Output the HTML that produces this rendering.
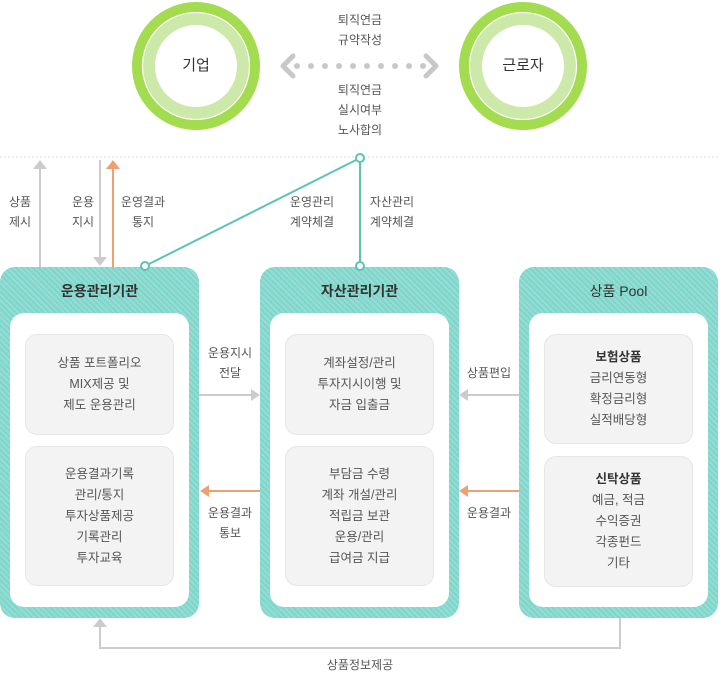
<!DOCTYPE html>
<html><head><meta charset="utf-8"><style>
body{margin:0;width:720px;height:673px;background:#fff;position:relative;overflow:hidden;font-family:"Liberation Sans","Noto Sans CJK KR",sans-serif;color:#555}
.t{position:absolute;font-size:12px;line-height:20px;text-align:center;color:#555;white-space:nowrap}
.box{position:absolute;top:267px;width:199px;height:351px;border-radius:15px;background:#7ed5ca;background-image:repeating-linear-gradient(45deg,rgba(255,255,255,.18) 0 2px,transparent 2px 4px)}
.box h3{margin:0;position:absolute;top:14px;left:0;right:0;text-align:center;font-size:14px;font-weight:bold;color:#333}
.inner{position:absolute;left:10px;top:46px;width:179px;height:294px;background:#fff;border-radius:14px}
.g{position:absolute;left:15px;width:147px;background:#f3f3f3;border:1px solid #e6e6e6;border-radius:12px;display:flex;flex-direction:column;justify-content:center;align-items:center;font-size:12.5px;line-height:21px;color:#555;text-align:center}
</style></head><body>
<svg width="720" height="673" style="position:absolute;left:0;top:0">
<line x1="0" y1="157" x2="720" y2="157" stroke="#ddd" stroke-dasharray="2,2"/>
<circle cx="196" cy="66" r="59" fill="none" stroke="#a3dc4e" stroke-width="10"/>
<circle cx="196" cy="66" r="47" fill="none" stroke="#cde9a9" stroke-width="12"/>
<circle cx="196" cy="66" r="53.5" fill="none" stroke="#fff" stroke-width="1"/>
<circle cx="523" cy="66" r="59" fill="none" stroke="#a3dc4e" stroke-width="10"/>
<circle cx="523" cy="66" r="47" fill="none" stroke="#cde9a9" stroke-width="12"/>
<circle cx="523" cy="66" r="53.5" fill="none" stroke="#fff" stroke-width="1"/>
<g fill="#c8c8c8"><circle cx="297" cy="66" r="3"/><circle cx="311" cy="66" r="3"/><circle cx="325" cy="66" r="3"/><circle cx="339" cy="66" r="3"/><circle cx="353" cy="66" r="3"/><circle cx="367" cy="66" r="3"/><circle cx="381" cy="66" r="3"/><circle cx="395" cy="66" r="3"/><circle cx="409" cy="66" r="3"/><circle cx="423" cy="66" r="3"/></g>
<polyline points="293,56 283,66 293,76" fill="none" stroke="#c8c8c8" stroke-width="5" stroke-linecap="round" stroke-linejoin="round"/>
<polyline points="426,56 436,66 426,76" fill="none" stroke="#c8c8c8" stroke-width="5" stroke-linecap="round" stroke-linejoin="round"/>
<line x1="40" y1="267" x2="40" y2="168" stroke="#ccc" stroke-width="2"/><polygon points="33,169 47,169 40,160" fill="#ccc"/>
<line x1="100" y1="160" x2="100" y2="258" stroke="#ccc" stroke-width="2"/><polygon points="93,257 107,257 100,266" fill="#ccc"/>
<line x1="113" y1="267" x2="113" y2="168" stroke="#f0a070" stroke-width="2"/><polygon points="106,169 120,169 113,160" fill="#f0a070"/>
<line x1="360" y1="158" x2="145" y2="266" stroke="#5dc3b5" stroke-width="2"/>
<line x1="360" y1="158" x2="360" y2="266" stroke="#5dc3b5" stroke-width="2"/>
<circle cx="360" cy="158" r="4" fill="#fff" stroke="#5dc3b5" stroke-width="2"/>
<line x1="199" y1="395" x2="252" y2="395" stroke="#ccc" stroke-width="2"/><polygon points="251,389 260,395 251,401" fill="#ccc"/>
<line x1="519" y1="395" x2="468" y2="395" stroke="#ccc" stroke-width="2"/><polygon points="468,389 459,395 468,401" fill="#ccc"/>
<line x1="260" y1="491" x2="208" y2="491" stroke="#f0a070" stroke-width="2"/><polygon points="209,485 200,491 209,497" fill="#f0a070"/>
<line x1="519" y1="491" x2="468" y2="491" stroke="#f0a070" stroke-width="2"/><polygon points="468,485 459,491 468,497" fill="#f0a070"/>
<polyline points="620,618 620,648 100,648 100,626" fill="none" stroke="#ccc" stroke-width="2"/><polygon points="93,627 107,627 100,618" fill="#ccc"/>
</svg>
<div class="t" style="left:166px;top:56px;font-size:15px;color:#333;width:60px">기업</div>
<div class="t" style="left:488px;top:56px;font-size:15px;color:#333;width:70px">근로자</div>
<div class="t" style="left:330px;top:10px;width:60px">퇴직연금<br>규약작성</div>
<div class="t" style="left:330px;top:80px;width:60px">퇴직연금<br>실시여부<br>노사합의</div>
<div class="t" style="left:0;top:192px;width:40px">상품<br>제시</div>
<div class="t" style="left:63px;top:192px;width:40px">운용<br>지시</div>
<div class="t" style="left:113px;top:192px;width:60px">운영결과<br>통지</div>
<div class="t" style="left:282px;top:192px;width:60px">운영관리<br>계약체결</div>
<div class="t" style="left:362px;top:192px;width:60px">자산관리<br>계약체결</div>
<div class="t" style="left:200px;top:343px;width:60px">운용지시<br>전달</div>
<div class="t" style="left:459px;top:363px;width:60px">상품편입</div>
<div class="t" style="left:200px;top:503px;width:60px">운용결과<br>통보</div>
<div class="t" style="left:459px;top:503px;width:60px">운용결과</div>
<div class="t" style="left:310px;top:655px;width:100px">상품정보제공</div>
<div class="box" style="left:0"><h3>운용관리기관</h3><div class="inner">
<div class="g" style="top:21px;height:99px">상품 포트폴리오<br>MIX제공 및<br>제도 운용관리</div>
<div class="g" style="top:133px;height:138px">운용결과기록<br>관리/통지<br>투자상품제공<br>기록관리<br>투자교육</div></div></div>
<div class="box" style="left:260px"><h3>자산관리기관</h3><div class="inner">
<div class="g" style="top:21px;height:99px">계좌설정/관리<br>투자지시이행 및<br>자금 입출금</div>
<div class="g" style="top:133px;height:138px">부담금 수령<br>계좌 개설/관리<br>적립금 보관<br>운용/관리<br>급여금 지급</div></div></div>
<div class="box" style="left:519px"><h3 style="font-weight:normal">상품 Pool</h3><div class="inner">
<div class="g" style="top:21px;height:108px"><b style="color:#333">보험상품</b>금리연동형<br>확정금리형<br>실적배당형</div>
<div class="g" style="top:143px;height:129px"><b style="color:#333">신탁상품</b>예금, 적금<br>수익증권<br>각종펀드<br>기타</div></div></div>
<svg width="720" height="673" style="position:absolute;left:0;top:0;pointer-events:none">
<circle cx="145" cy="266" r="4" fill="#fff" stroke="#5dc3b5" stroke-width="2"/>
<circle cx="360" cy="266" r="4" fill="#fff" stroke="#5dc3b5" stroke-width="2"/>
</svg>
</body></html>
